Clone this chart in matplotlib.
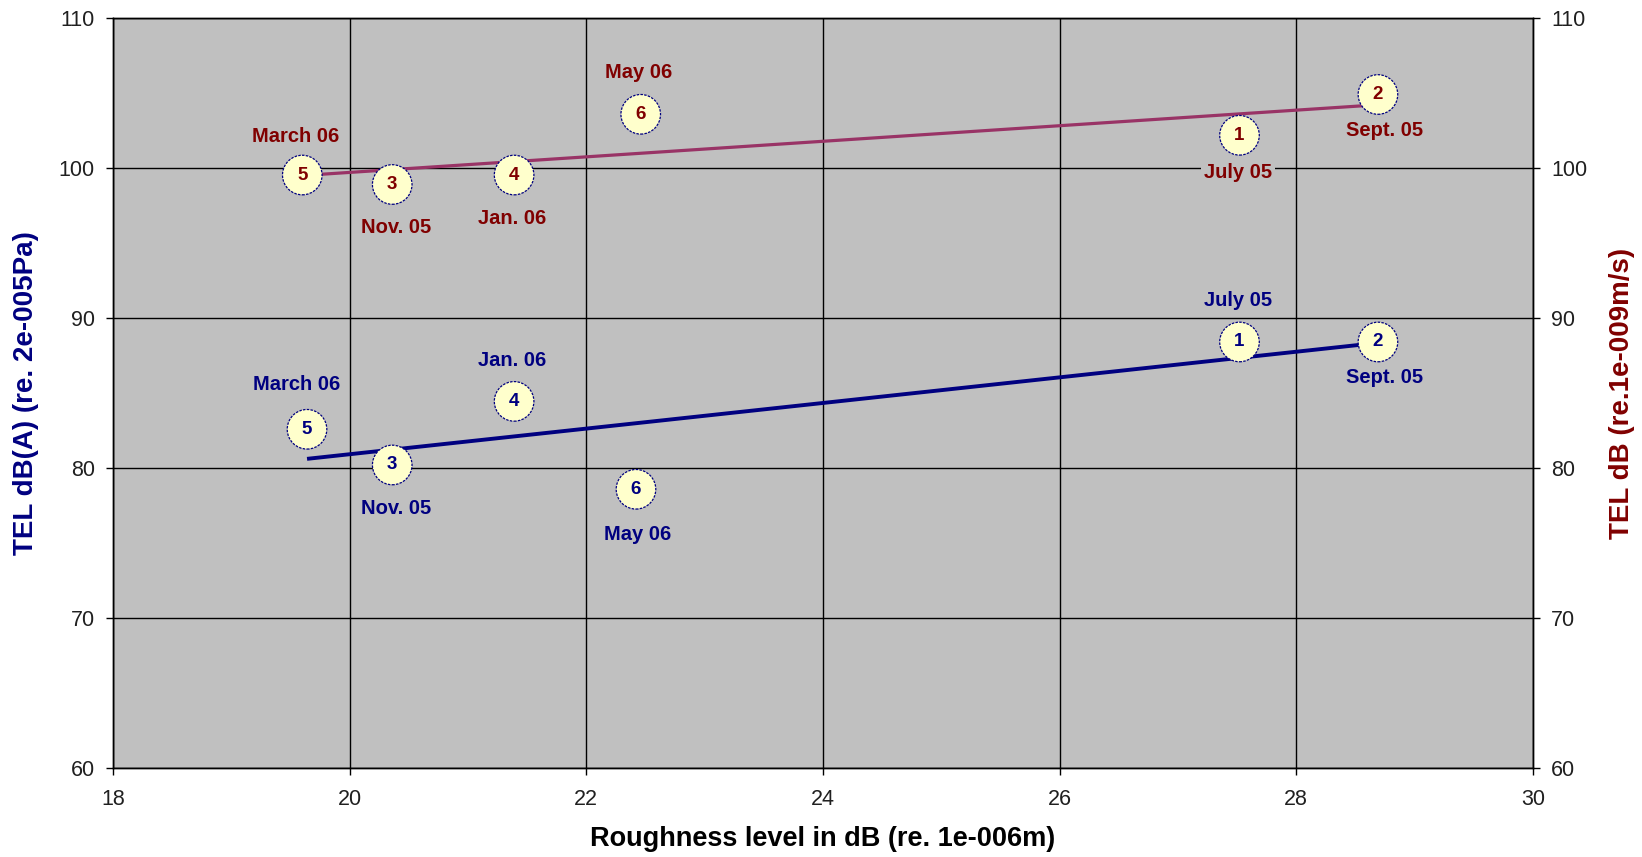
import numpy as np
import matplotlib
matplotlib.use("Agg")
import matplotlib.pyplot as plt

# ---- data ----
point_ids = ["1", "2", "3", "4", "5", "6"]
months = ["July 05", "Sept. 05", "Nov. 05", "Jan. 06", "March 06", "May 06"]

rough_blue = [27.52, 28.69, 20.36, 21.39, 19.64, 22.42]
tel_pa = [88.40, 88.40, 80.20, 84.44, 82.58, 78.58]        # left axis, dB(A)
rough_red = [27.52, 28.69, 20.36, 21.39, 19.60, 22.46]
tel_vel = [102.18, 104.90, 98.90, 99.53, 99.53, 103.58]   # right axis, dB

x_ticks = [18, 20, 22, 24, 26, 28, 30]
y_ticks = [60, 70, 80, 90, 100, 110]

# ---- label layout (offsets in points from each point) ----
blue_offsets = [(-1, 30), (4.5, -25.6), (3, -31), (-1.5, 29.4), (-7.5, 32.4), (1, -32.4)]
red_offsets = [(-1, -26.5), (4.5, -25.6), (3, -31), (-1.5, -31.5), (-4.5, 28), (-1.5, 30)]

NAVY = "#000080"
DRED = "#800000"
PLUM = "#993366"
BG = "#C0C0C0"
FILL = "#FFFFCC"

tick_font = ["Liberation Sans", "DejaVu Sans"]
bold_font = ["Liberation Sans", "DejaVu Sans"]

fig = plt.figure(figsize=(16.42, 8.57), dpi=100)
ax = fig.add_axes([0.0688, 0.1039, 0.8648, 0.8751])
ax2 = ax.twinx()

for a in (ax, ax2):
    a.set_xlim(18, 30)
    a.set_ylim(60, 110)
    a.set_yticks(y_ticks)
    for s in a.spines.values():
        s.set_color("black")
        s.set_linewidth(1.0)

ax.set_facecolor(BG)
ax2.patch.set_visible(False)
ax.set_xticks(x_ticks)
ax.grid(True, color="black", linewidth=1.0, zorder=0)
ax.set_axisbelow(True)

ax.tick_params(axis="x", direction="out", length=5, width=1, pad=10, labelsize=15.5)
ax.tick_params(axis="y", direction="out", length=5, width=1, pad=8, labelsize=15.5)
ax2.tick_params(axis="y", direction="out", length=5, width=1, pad=8, labelsize=15.5)
for lbl in ax.get_xticklabels() + ax.get_yticklabels() + ax2.get_yticklabels():
    lbl.set_fontfamily(tick_font)
    lbl.set_color("#202020")

ax.set_xlabel("Roughness level in dB (re. 1e-006m)", fontsize=19.5, fontweight="bold",
              family=bold_font, labelpad=12)
ax.set_ylabel("TEL dB(A) (re. 2e-005Pa)", fontsize=20, fontweight="bold",
              family=bold_font, color=NAVY, labelpad=14)
ax2.set_ylabel("TEL dB (re.1e-009m/s)", fontsize=20, fontweight="bold",
               family=bold_font, color=DRED, labelpad=16)


def draw_series(a, xs, ys, line_color, text_color, offsets, lw):
    xs = np.asarray(xs)
    ys = np.asarray(ys)
    k, b = np.polyfit(xs, ys, 1)
    xl = np.array([xs.min(), xs.max()])
    a.plot(xl, k * xl + b, color=line_color, linewidth=lw, zorder=3,
           solid_capstyle="butt")
    a.scatter(xs, ys, s=28.5 ** 2, facecolor=FILL, edgecolor=NAVY, linewidths=0.9,
              linestyle=(0, (2, 1)), zorder=4)
    for x, y, pid, m, (dx, dy) in zip(xs, ys, point_ids, months, offsets):
        a.text(x, y, pid, ha="center", va="center", fontsize=13.5, fontweight="bold",
               family=bold_font, color=text_color, zorder=5)
        a.annotate(m, (x, y), xytext=(dx, dy), textcoords="offset points",
                   ha="center", va="center", fontsize=14.5, fontweight="bold",
                   family=bold_font, color=text_color, zorder=5,
                   bbox=dict(boxstyle="square,pad=0.15", facecolor=BG,
                             edgecolor="none"))


draw_series(ax, rough_blue, tel_pa, NAVY, NAVY, blue_offsets, 2.8)
draw_series(ax2, rough_red, tel_vel, PLUM, DRED, red_offsets, 2.3)

fig.savefig("out.png", dpi=100)
